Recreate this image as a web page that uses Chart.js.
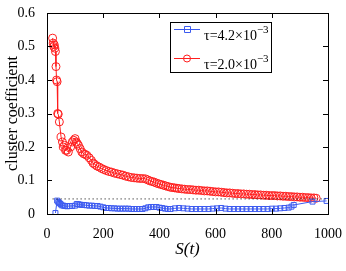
<!DOCTYPE html>
<html>
<head>
<meta charset="utf-8">
<script src="https://cdn.jsdelivr.net/npm/chart.js@4/dist/chart.umd.min.js"></script>
<style>
	html, body { margin: 0; padding: 0; background: #fff; }
	#wrap { width: 346px; height: 271px; }
</style>
</head>
<body>
<div id="wrap"><canvas id="chart" width="346" height="271"></canvas></div>
<script>
// Axis ticks
const xTicks = [0, 200, 400, 600, 800, 1000];
const yTicks = [0, 0.1, 0.2, 0.3, 0.4, 0.5, 0.6];

// Legend labels (tau values, exponent shown as superscript)
const seriesNames = ["τ=4.2×10", "τ=2.0×10"];
const seriesExp = ["−3", "−3"];

// tau = 4.2e-3 (blue squares)
const blueS = [30, 36, 40, 44, 48, 52, 58, 64, 72, 80, 90, 100, 106, 112, 118, 124, 132, 140, 150, 160,
	170, 180, 190, 200, 210, 220, 230, 240, 250, 260, 270, 280, 290, 300, 310, 320, 330, 340, 350, 360,
	370, 380, 390, 400, 410, 420, 430, 440, 455, 470, 485, 500, 515, 530, 545, 560, 575, 590, 605, 620,
	635, 650, 665, 680, 695, 710, 725, 740, 755, 770, 785, 800, 815, 830, 845, 860, 870, 878, 945, 995];
const blueC = [0.003, 0.040, 0.036, 0.033, 0.030, 0.026, 0.025, 0.024, 0.023, 0.024, 0.024, 0.025, 0.030, 0.029, 0.028, 0.027, 0.027, 0.026, 0.025, 0.025,
	0.024, 0.024, 0.022, 0.020, 0.018, 0.018, 0.017, 0.017, 0.016, 0.016, 0.016, 0.016, 0.016, 0.015, 0.015, 0.015, 0.015, 0.015, 0.017, 0.020,
	0.021, 0.021, 0.021, 0.019, 0.018, 0.016, 0.015, 0.015, 0.017, 0.018, 0.017, 0.016, 0.015, 0.015, 0.015, 0.015, 0.015, 0.016, 0.017, 0.018,
	0.016, 0.015, 0.015, 0.015, 0.015, 0.015, 0.015, 0.015, 0.015, 0.015, 0.015, 0.016, 0.016, 0.017, 0.018, 0.019, 0.022, 0.027, 0.037, 0.039];

// tau = 2.0e-3 (red circles)
const redS = [20, 22, 24, 26, 28, 30, 32, 34, 36, 38, 40, 44, 50, 55, 58, 62, 66, 70, 76, 84,
	90, 95, 100, 104, 108, 112, 118, 124, 130, 136, 142, 150, 158, 164, 170, 178, 186, 194, 202, 210,
	220, 230, 240, 250, 260, 270, 280, 290, 300, 310, 320, 330, 340, 350, 358, 366, 374, 382, 390, 398,
	406, 414, 422, 430, 438, 446, 454, 462, 470, 480, 490, 500, 510, 520, 530, 540, 550, 560, 570, 580,
	590, 600, 610, 620, 630, 640, 650, 660, 670, 680, 690, 700, 710, 720, 730, 740, 750, 760, 770, 780,
	790, 800, 810, 820, 830, 840, 850, 860, 870, 880, 890, 900, 910, 920, 930, 940, 950, 958];
const redC = [0.525, 0.510, 0.500, 0.505, 0.495, 0.485, 0.440, 0.400, 0.395, 0.300, 0.298, 0.275, 0.230, 0.215, 0.200, 0.205, 0.190, 0.190, 0.185, 0.200,
	0.215, 0.220, 0.225, 0.215, 0.210, 0.205, 0.195, 0.185, 0.180, 0.178, 0.175, 0.168, 0.160, 0.152, 0.148, 0.143, 0.140, 0.136, 0.133, 0.130,
	0.127, 0.125, 0.122, 0.120, 0.118, 0.116, 0.113, 0.111, 0.109, 0.108, 0.107, 0.106, 0.106, 0.105, 0.102, 0.099, 0.097, 0.095, 0.092, 0.090,
	0.088, 0.086, 0.084, 0.082, 0.080, 0.079, 0.078, 0.077, 0.076, 0.075, 0.074, 0.073, 0.073, 0.072, 0.071, 0.071, 0.070, 0.069, 0.069, 0.068,
	0.067, 0.066, 0.066, 0.065, 0.064, 0.063, 0.063, 0.062, 0.061, 0.061, 0.060, 0.060, 0.059, 0.059, 0.058, 0.058, 0.057, 0.057, 0.056, 0.056,
	0.055, 0.055, 0.055, 0.054, 0.054, 0.053, 0.053, 0.052, 0.052, 0.051, 0.051, 0.050, 0.050, 0.049, 0.049, 0.048, 0.048, 0.047];

// Dotted reference level
const refS = [20, 1000];
const refC = [0.045, 0.045];

const serif = "'Liberation Serif', 'DejaVu Serif', serif";
const blue = "rgb(60, 90, 240)";
const red = "rgb(255, 30, 30)";

function toPoints(xs, ys) {
	return xs.map((x, i) => ({ x, y: ys[i] }));
}

// Draws the box, inward ticks and the legend (matlab style)
const framePlugin = {
	id: "frame",
	afterDraw(chart) {
		const { ctx, chartArea: a, scales } = chart;
		ctx.save();
		ctx.strokeStyle = "#000";
		ctx.lineWidth = 1;
		ctx.strokeRect(Math.round(a.left) + 0.5, Math.round(a.top) + 0.5, Math.round(a.right - a.left), Math.round(a.bottom - a.top));

		const len = 5;
		ctx.beginPath();
		xTicks.forEach((v) => {
			const x = Math.round(scales.x.getPixelForValue(v)) + 0.5;
			ctx.moveTo(x, a.bottom);
			ctx.lineTo(x, a.bottom - len);
			ctx.moveTo(x, a.top);
			ctx.lineTo(x, a.top + len);
		});
		yTicks.forEach((v) => {
			const y = Math.round(scales.y.getPixelForValue(v)) + 0.5;
			ctx.moveTo(a.left, y);
			ctx.lineTo(a.left + len, y);
			ctx.moveTo(a.right, y);
			ctx.lineTo(a.right - len, y);
		});
		ctx.stroke();

		// legend
		const bx = 170, by = 22, bw = 101, bh = 50;
		ctx.fillStyle = "#fff";
		ctx.fillRect(bx, by, bw, bh);
		ctx.strokeRect(bx + 0.5, by + 0.5, bw, bh);

		const colors = [blue, red];
		const rowY = [29, 58];
		seriesNames.forEach((name, i) => {
			const y = rowY[i] + 0.5;
			ctx.strokeStyle = colors[i];
			ctx.beginPath();
			ctx.moveTo(174, y);
			ctx.lineTo(200, y);
			ctx.stroke();
			ctx.beginPath();
			if (i === 0) ctx.rect(184.5, y - 3, 6, 6);
			else ctx.arc(187, y, 3.5, 0, Math.PI * 2);
			ctx.stroke();

			ctx.fillStyle = "#000";
			ctx.textBaseline = "alphabetic";
			ctx.font = "14px " + serif;
			ctx.fillText(name, 204, rowY[i] + 11);
			const w = ctx.measureText(name).width;
			ctx.font = "11px " + serif;
			ctx.fillText(seriesExp[i], 204 + w, rowY[i] + 4);
		});
		ctx.restore();
	},
};

new Chart(document.getElementById("chart"), {
	type: "scatter",
	data: {
		datasets: [
			{
				data: toPoints(refS, refC),
				showLine: true,
				borderColor: "#000",
				borderWidth: 1,
				borderDash: [1, 3],
				pointRadius: 0,
			},
			{
				label: seriesNames[0],
				data: toPoints(blueS, blueC),
				showLine: true,
				borderColor: blue,
				borderWidth: 1,
				pointStyle: "rect",
				pointRadius: 3.5,
				pointBorderColor: blue,
				pointBackgroundColor: "rgba(0,0,0,0)",
				pointBorderWidth: 1,
			},
			{
				label: seriesNames[1],
				data: toPoints(redS, redC),
				showLine: true,
				borderColor: red,
				borderWidth: 1,
				pointStyle: "circle",
				pointRadius: 4,
				pointBorderColor: red,
				pointBackgroundColor: "rgba(0,0,0,0)",
				pointBorderWidth: 1,
			},
		],
	},
	options: {
		responsive: false,
		animation: false,
		events: [],
		layout: { padding: { top: 13, right: 16, left: 0, bottom: 0 } },
		plugins: {
			legend: { display: false },
			tooltip: { enabled: false },
		},
		scales: {
			x: {
				type: "linear",
				min: 0,
				max: 1000,
				afterBuildTicks: (scale) => {
					scale.ticks = xTicks.map((v) => ({ value: v }));
				},
				afterFit: (scale) => {
					scale.height = 57;
				},
				grid: { display: false },
				border: { display: false },
				ticks: {
					color: "#000",
					font: { family: serif, size: 14 },
					padding: 4,
					maxRotation: 0,
					callback: (v) => String(v),
				},
				title: {
					display: true,
					text: "S(t)",
					color: "#000",
					font: { family: serif, size: 17, style: "italic" },
					padding: { top: 0, bottom: 11 },
				},
			},
			y: {
				min: 0,
				max: 0.6,
				afterBuildTicks: (scale) => {
					scale.ticks = yTicks.map((v) => ({ value: v }));
				},
				afterFit: (scale) => {
					scale.width = 47;
				},
				grid: { display: false },
				border: { display: false },
				ticks: {
					color: "#000",
					font: { family: serif, size: 14 },
					padding: 4,
					callback: (v) => String(v),
				},
				title: {
					display: true,
					text: "cluster coefficient",
					color: "#000",
					font: { family: serif, size: 16 },
					padding: { top: 3, bottom: 0 },
				},
			},
		},
	},
	plugins: [framePlugin],
});
</script>
</body>
</html>
